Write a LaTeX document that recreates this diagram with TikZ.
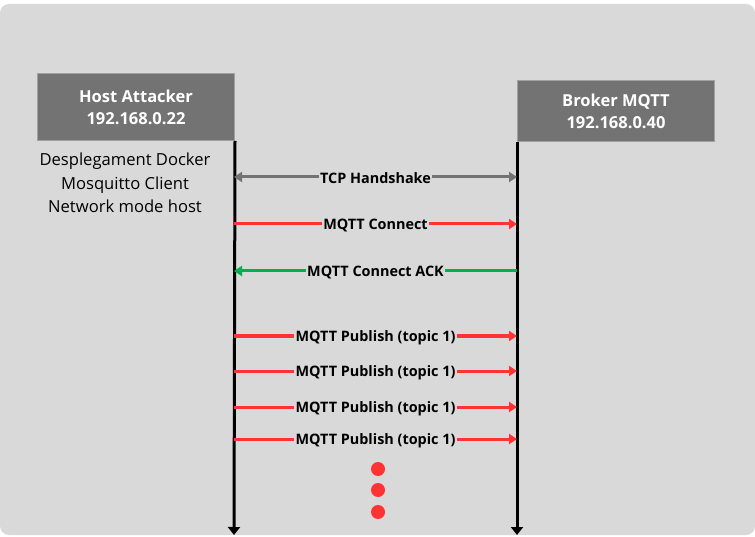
\documentclass[tikz,border=0pt]{standalone}
\usepackage{fontspec}
\setmainfont{Open Sans}
\usetikzlibrary{arrows.meta}
\definecolor{bg}{HTML}{D9D9D9}
\definecolor{boxfill}{HTML}{737373}
\definecolor{boxline}{HTML}{A0A0A0}
\definecolor{myred}{HTML}{FF3333}
\definecolor{mygreen}{HTML}{00B050}
\definecolor{mygray}{HTML}{737373}
\tikzset{
  actor/.style={draw=boxline, line width=1pt, fill=boxfill, text=white, font=\fontsize{16.5}{22}\selectfont\bfseries, align=center, inner sep=0pt},
  lifeline/.style={line width=3pt, -{Triangle[width=12pt,length=8pt]}},
  msg/.style={line width=3pt},
  msglabel/.style={fill=bg, inner sep=1.5pt, yshift=-1.5pt, font=\fontsize{14.4}{16}\selectfont\bfseries, text=black},
  tip/.style={-{Triangle[width=10pt,length=8pt]}},
  dot/.style={circle, fill=myred, minimum size=14pt, inner sep=0pt},
  note/.style={font=\fontsize{16.6}{23.5}\selectfont, align=center, text=black}
}
\begin{document}
\begin{tikzpicture}[x=1pt,y=-1pt]
\useasboundingbox (0,0) rectangle (755,537);
\fill[white] (0,0) rectangle (755,537);
\fill[bg, rounded corners=9pt] (0,4) rectangle (755,535);

\node[actor, minimum width=197pt, minimum height=67pt, anchor=north west] (host) at (37,73) {Host Attacker\\192.168.0.22};
\node[actor, minimum width=197pt, minimum height=61pt, anchor=north west] (broker) at (517,80) {Broker MQTT\\192.168.0.40};

\coordinate (hbot) at (234,535);
\coordinate (bbot) at (517,535);
\draw[lifeline] (host.south east) -- (hbot);
\draw[lifeline] (broker.south west) -- (bbot);

\node[note] (desc) at (125,183) {Desplegament Docker\\Mosquitto Client\\Network mode host};

% messages
\coordinate (h1) at (234,177); \coordinate (b1) at (517,177);
\draw[msg, mygray, {Triangle[width=10pt,length=8pt]}-{Triangle[width=10pt,length=8pt]}] (h1) -- (b1) node[msglabel, midway] (l1) {TCP Handshake};

\coordinate (h2) at (234,224); \coordinate (b2) at (517,224);
\draw[msg, myred, tip] (h2) -- (b2) node[msglabel, midway] (l2) {MQTT Connect};

\coordinate (h3) at (234,271); \coordinate (b3) at (517,271);
\draw[msg, mygreen, tip] (b3) -- (h3) node[msglabel, midway] (l3) {MQTT Connect ACK};

\foreach \y/\n in {336/4,371/5,407/6,439/7}{
  \coordinate (h\n) at (234,\y); \coordinate (b\n) at (517,\y);
  \draw[msg, myred, tip] (h\n) -- (b\n) node[msglabel, midway] (l\n) {MQTT Publish (topic 1)};
}

\node[dot] (d1) at (378,469) {};
\node[dot] (d2) at (378,490) {};
\node[dot] (d3) at (378,512) {};
\end{tikzpicture}
\end{document}
